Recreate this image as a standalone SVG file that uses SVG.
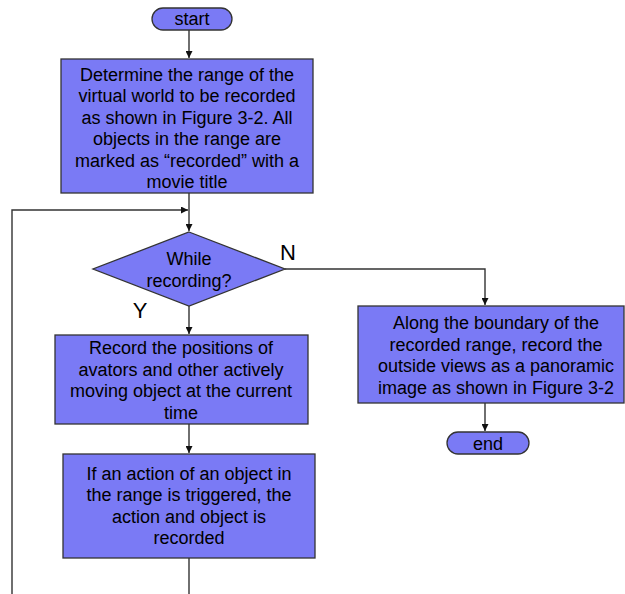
<svg xmlns="http://www.w3.org/2000/svg" width="625" height="594" viewBox="0 0 625 594">
  <style>
    .box { fill: #7a7af5; stroke: #333; stroke-width: 1.3; }
    .txt { font-family: "Liberation Sans", Arial, sans-serif; font-size: 18px; fill: #000; text-anchor: middle; }
    .lbl { font-family: "Liberation Sans", Arial, sans-serif; font-size: 22px; fill: #000; text-anchor: middle; }
    .edge { fill: none; stroke: #333; stroke-width: 1.4; }
  </style>
  <defs>
    <marker id="arrow" viewBox="0 0 10 10" refX="10" refY="5" markerWidth="7" markerHeight="7" markerUnits="userSpaceOnUse" orient="auto">
      <path d="M0,0 L10,5 L0,10 z" fill="#111"/>
    </marker>
  </defs>
  <rect width="625" height="594" fill="#fff"/>

  <g id="connectors">
    <path class="edge" d="M189,30 V58" marker-end="url(#arrow)"/>
    <path class="edge" d="M189,193 V231" marker-end="url(#arrow)"/>
    <path class="edge" d="M12,594 V210 H188" marker-end="url(#arrow)"/>
    <path class="edge" d="M285,269 H485 V305" marker-end="url(#arrow)"/>
    <path class="edge" d="M189,306 V334" marker-end="url(#arrow)"/>
    <path class="edge" d="M189,424 V453" marker-end="url(#arrow)"/>
    <path class="edge" d="M485,403 V431" marker-end="url(#arrow)"/>
    <path class="edge" d="M189,558 V594"/>
  </g>

  <g id="start">
    <rect class="box" x="152" y="8" width="80" height="22" rx="11"/>
    <text class="txt" x="192" y="25">start</text>
  </g>

  <g id="define-range">
    <rect class="box" x="61" y="59" width="252" height="134"/>
    <text class="txt" x="187" y="81">Determine the range of the</text>
    <text class="txt" x="187" y="102">virtual world to be recorded</text>
    <text class="txt" x="187" y="123.5">as shown in Figure 3-2. All</text>
    <text class="txt" x="187" y="145">objects in the range are</text>
    <text class="txt" x="187" y="166.5">marked as “recorded” with a</text>
    <text class="txt" x="187" y="188">movie title</text>
  </g>

  <g id="while-recording">
    <polygon class="box" points="189,232 285,269 189,306 93,269"/>
    <text class="txt" x="189" y="265">While</text>
    <text class="txt" x="189" y="287">recording?</text>
    <text class="lbl" x="288" y="260">N</text>
    <text class="lbl" x="140" y="318">Y</text>
  </g>

  <g id="record-positions">
    <rect class="box" x="55" y="335" width="253" height="89"/>
    <text class="txt" x="181" y="354">Record the positions of</text>
    <text class="txt" x="181" y="375.5">avators and other actively</text>
    <text class="txt" x="181" y="397">moving object at the current</text>
    <text class="txt" x="181" y="418.5">time</text>
  </g>

  <g id="record-actions">
    <rect class="box" x="63" y="454" width="252" height="104"/>
    <text class="txt" x="189" y="479.5">If an action of an object in</text>
    <text class="txt" x="189" y="501">the range is triggered, the</text>
    <text class="txt" x="189" y="522.5">action and object is</text>
    <text class="txt" x="189" y="544">recorded</text>
  </g>

  <g id="panorama">
    <rect class="box" x="358" y="306" width="266" height="97"/>
    <text class="txt" x="496" y="329">Along the boundary of the</text>
    <text class="txt" x="496" y="350.5">recorded range, record the</text>
    <text class="txt" x="496" y="372">outside views as a panoramic</text>
    <text class="txt" x="496" y="393.5">image as shown in Figure 3-2</text>
  </g>

  <g id="end">
    <rect class="box" x="447" y="432" width="82" height="22" rx="11"/>
    <text class="txt" x="488" y="450">end</text>
  </g>
</svg>
